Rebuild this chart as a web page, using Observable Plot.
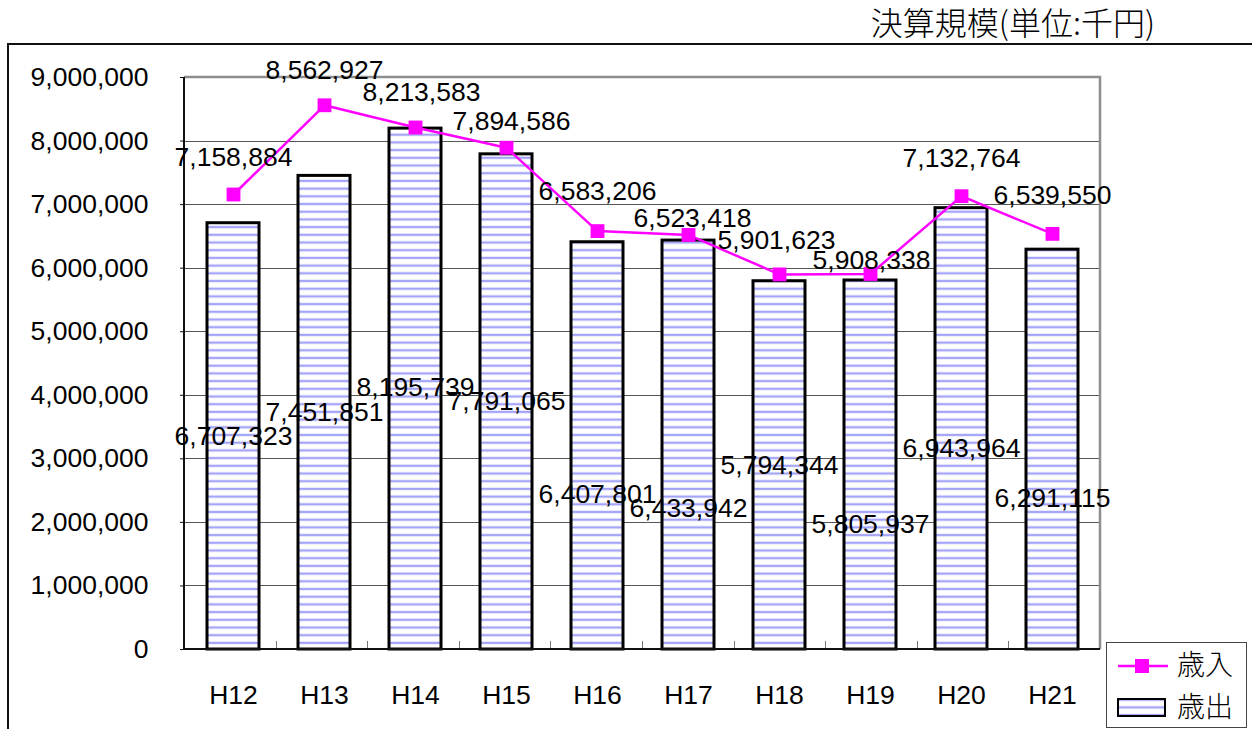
<!DOCTYPE html>
<html><head><meta charset="utf-8">
<script src="https://cdn.jsdelivr.net/npm/d3@7"></script>
<script src="https://cdn.jsdelivr.net/npm/@observablehq/plot@0.6"></script>
<style>
body{margin:0;width:1252px;height:729px;overflow:hidden;position:relative;background:#fff;font-family:"Liberation Sans",Arial,sans-serif;}
#chart{position:absolute;left:0;top:0;}
#frame{position:absolute;left:7px;top:43px;width:1300px;height:800px;border:2px solid #111;box-sizing:border-box;pointer-events:none;}
#title{position:absolute;right:97px;top:1px;font-family:"Noto Sans CJK JP",sans-serif;font-size:32px;font-weight:300;white-space:nowrap;line-height:40px;color:#000;}
#legend{position:absolute;left:1106px;top:642px;width:141px;height:86px;}
</style></head><body>
<div id="chart"></div>
<div id="frame"></div>
<div id="title"></div>
<div id="legend"></div>
<script>
const titleText = "決算規模(単位:千円)";
const categories = ["H12","H13","H14","H15","H16","H17","H18","H19","H20","H21"];
const revenue = [7158884, 8562927, 8213583, 7894586, 6583206, 6523418, 5901623, 5908338, 7132764, 6539550];
const expenditure = [6707323, 7451851, 8195739, 7791065, 6407801, 6433942, 5794344, 5805937, 6943964, 6291115];
const seriesNames = ["歳入", "歳出"];
const yTicks = [0, 1000000, 2000000, 3000000, 4000000, 5000000, 6000000, 7000000, 8000000, 9000000];
// hand-placed data-label nudges (pixels), as in the original chart
const revLabelDy = [-37, -35, -35, -26, -40, -16, -34, -13, -38, -38];
const revLabelDx = [0, 0, 6, 5, 0, 4, -3, 1, 0, 0];
const expLabelDy = [0, 0, -2, 0, 49, 63, 0, 60, 20, 49];

const rows = categories.map((c, i) => ({cat: c, rev: revenue[i], exp: expenditure[i],
  rdy: revLabelDy[i], rdx: revLabelDx[i], edy: expLabelDy[i]}));
const fmt = d3.format(",");
const numFont = "Liberation Sans, Arial, sans-serif";
const W = 1252, H = 729, ML = 184, MR = 152, MT = 77, MB = 80;

// pattern defs + gridlines (under bars)
function under(index, scales, values, dims) {
  const g = d3.create("svg:g");
  const defs = g.append("defs");
  const p = defs.append("pattern").attr("id", "stripes").attr("patternUnits", "userSpaceOnUse")
    .attr("width", 10).attr("height", 7.7);
  p.append("rect").attr("width", 10).attr("height", 7.7).attr("fill", "#fff");
  p.append("rect").attr("y", 2.4).attr("width", 10).attr("height", 2.8).attr("fill", "#d4d4ff");
  p.append("rect").attr("y", 3.0).attr("width", 10).attr("height", 1.6).attr("fill", "#9c9cf6");
  const x1 = dims.marginLeft, x2 = dims.width - dims.marginRight;
  for (const t of yTicks.slice(1, -1)) {
    const y = Math.round(scales.y(t)) + 0.5;
    g.append("line").attr("x1", x1).attr("x2", x2).attr("y1", y).attr("y2", y)
      .attr("stroke", "#555").attr("stroke-width", 1);
  }
  return g.node();
}

// plot-area border, axis lines and category boundary ticks (over bars)
function borders(index, scales, values, dims) {
  const g = d3.create("svg:g");
  const x1 = dims.marginLeft, x2 = dims.width - dims.marginRight;
  const yTop = dims.marginTop, yBot = dims.height - dims.marginBottom;
  const step = (x2 - x1) / categories.length;
  g.append("path").attr("d", `M${x1},${yTop}H${x2}V${yBot}`).attr("fill", "none")
    .attr("stroke", "#8e8e8e").attr("stroke-width", 2.5);
  for (let i = 1; i < categories.length; i++) {
    const x = Math.round(x1 + i * step) + 0.5;
    g.append("line").attr("x1", x).attr("x2", x).attr("y1", yBot - 8).attr("y2", yBot)
      .attr("stroke", "#777").attr("stroke-width", 1);
  }
  g.append("path").attr("d", `M${x1},${yTop}V${yBot}H${x2}`).attr("fill", "none")
    .attr("stroke", "#111").attr("stroke-width", 2);
  return g.node();
}

const chart = Plot.plot({
  width: W, height: H,
  marginLeft: ML, marginRight: MR, marginTop: MT, marginBottom: MB,
  style: {fontFamily: numFont, fontSize: "26.5px", color: "#000", background: "transparent"},
  x: {domain: categories, paddingInner: 0.43, paddingOuter: 0.215, label: null},
  y: {domain: [0, 9000000], label: null},
  marks: [
    under,
    Plot.axisY({ticks: yTicks, tickFormat: fmt, tickSize: 4, tickPadding: 32, fontSize: 26.5, stroke: "#111"}),
    Plot.axisX({tickSize: 0, tickPadding: 36, fontSize: 26.5}),
    Plot.barY(rows, {x: "cat", y: "exp", fill: "url(#stripes)", stroke: "#000", strokeWidth: 3}),
    borders,
    Plot.line(rows, {x: "cat", y: "rev", stroke: "#ff00ff", strokeWidth: 2.5}),
    Plot.dot(rows, {x: "cat", y: "rev", symbol: "square", r: 7.8, fill: "#ff00ff", stroke: "none"}),
    Plot.text(rows, {x: "cat", y: d => d.exp / 2, text: d => fmt(d.exp), fontSize: 26.5, fill: "#000",
      render: (index, scales, values, dims, context, next) => {
        const g = next(index, scales, values, dims, context);
        d3.select(g).selectAll("text").attr("transform", function(_, j) {
          const i = index[j];
          const t = this.getAttribute("transform") || "";
          return `${t} translate(0,${rows[i].edy})`;
        });
        return g;
      }}),
    Plot.text(rows, {x: "cat", y: "rev", text: d => fmt(d.rev), fontSize: 26.5, fill: "#000",
      render: (index, scales, values, dims, context, next) => {
        const g = next(index, scales, values, dims, context);
        d3.select(g).selectAll("text").attr("transform", function(_, j) {
          const i = index[j];
          const t = this.getAttribute("transform") || "";
          return `${t} translate(${rows[i].rdx},${rows[i].rdy})`;
        });
        return g;
      }})
  ]
});
document.getElementById("chart").appendChild(chart);
document.getElementById("title").textContent = titleText;

// legend
const lg = d3.select("#legend").append("svg").attr("width", 141).attr("height", 86);
lg.append("rect").attr("x", 0.5).attr("y", 0.5).attr("width", 140).attr("height", 85)
  .attr("fill", "#fff").attr("stroke", "#444").attr("stroke-width", 1);
lg.append("line").attr("x1", 12).attr("x2", 62).attr("y1", 24).attr("y2", 24)
  .attr("stroke", "#ff00ff").attr("stroke-width", 2.5);
lg.append("rect").attr("x", 29).attr("y", 17).attr("width", 14).attr("height", 14).attr("fill", "#ff00ff");
lg.append("rect").attr("x", 12).attr("y", 57).attr("width", 47).attr("height", 17)
  .attr("fill", "url(#stripes)").attr("stroke", "#000").attr("stroke-width", 2);
lg.selectAll("text.lab").data(seriesNames).join("text").attr("class", "lab")
  .attr("x", 71).attr("y", (d, i) => i === 0 ? 21 : 63)
  .attr("dominant-baseline", "central")
  .attr("font-family", "Noto Sans CJK JP, sans-serif").attr("font-size", 28).attr("font-weight", 300)
  .text(d => d);
</script>
</body></html>
